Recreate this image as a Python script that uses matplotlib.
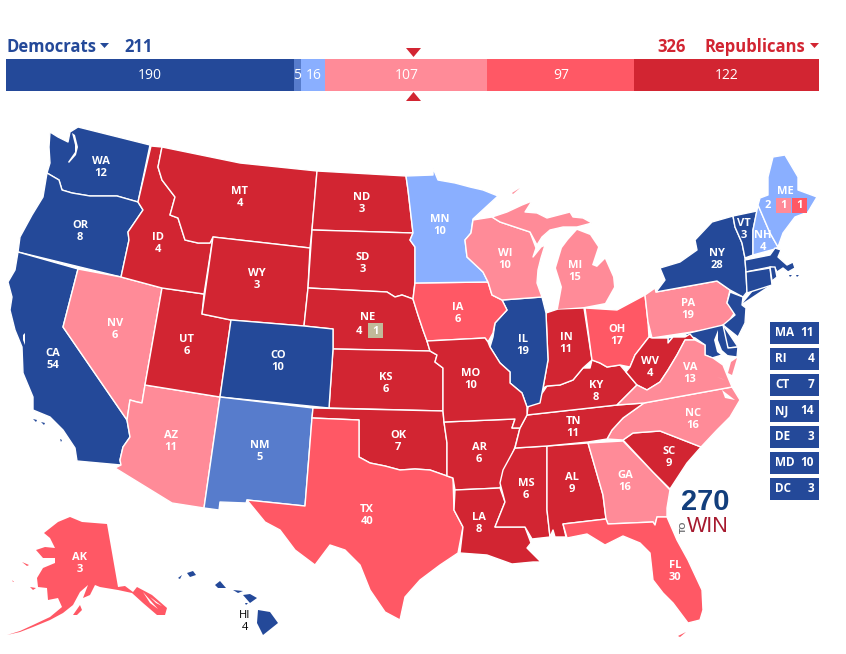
import matplotlib
matplotlib.use("Agg")
import matplotlib.pyplot as plt
from matplotlib.patches import Polygon, Rectangle

plt.rcParams["font.family"] = ["Open Sans", "DejaVu Sans"]

# electoral bar
bar_values = [190, 5, 16, 107, 97, 122]
bar_colors = ["#244999", "#577CCC", "#8AAFFF", "#FF8B98", "#FF5865", "#D22532"]
dem_total = 211
rep_total = 326

# small states box
box_states = ["MA", "RI", "CT", "NJ", "DE", "MD", "DC"]
box_votes = [11, 4, 7, 14, 3, 10, 3]

# ratings
strong_d = ["WA", "OR", "CA", "CO", "IL", "NY", "VT", "MA", "RI", "CT", "NJ", "DE", "MD", "HI"]
likely_d = ["NM"]
lean_d = ["MN", "ME", "NH"]
tilt_r = ["NV", "AZ", "WI", "MI", "PA", "VA", "NC", "GA"]
lean_r = ["TX", "IA", "OH", "FL", "AK"]
strong_r = ["ID", "MT", "WY", "UT", "ND", "SD", "NE", "KS", "OK", "MO", "AR", "LA", "MS", "AL",
            "TN", "KY", "IN", "WV", "SC"]

votes = {"WA": 12, "OR": 8, "CA": 54, "NV": 6, "ID": 4, "MT": 4, "WY": 3, "UT": 6, "AZ": 11, "CO": 10,
         "NM": 5, "ND": 3, "SD": 3, "KS": 6, "OK": 7, "TX": 40, "MN": 10, "IA": 6, "MO": 10, "AR": 6,
         "LA": 8, "IL": 19, "WI": 10, "MI": 15, "IN": 11, "OH": 17, "KY": 8, "TN": 11, "MS": 6, "AL": 9,
         "GA": 16, "FL": 30, "SC": 9, "NC": 16, "VA": 13, "WV": 4, "PA": 19, "NY": 28, "VT": 3, "NH": 4,
         "AK": 3}

# label centres in picture pixels
label_pos = {"WA": (101, 161), "OR": (80, 226), "CA": (53, 354), "NV": (115, 323), "ID": (158, 237),
             "MT": (240, 191), "WY": (257, 274), "UT": (187, 340), "AZ": (171, 436), "CO": (278, 356),
             "NM": (260, 445), "ND": (362, 198), "SD": (363, 257), "KS": (386, 377), "OK": (398, 435),
             "TX": (367, 510), "MN": (440, 219), "IA": (458, 307), "MO": (471, 374), "AR": (479, 448),
             "LA": (479, 518), "IL": (523, 339), "WI": (505, 254), "MI": (575, 265), "IN": (566, 338),
             "OH": (617, 329), "KY": (596, 386), "TN": (573, 422), "MS": (526, 483), "AL": (572, 478),
             "GA": (625, 475), "FL": (675, 566), "SC": (669, 451), "NC": (693, 413), "VA": (690, 368),
             "WV": (650, 361), "PA": (688, 303), "NY": (717, 254), "VT": (744, 223), "NH": (763, 235),
             "AK": (80, 557)}

# state outlines, in pixels
shapes = {
    "WA": [[(50, 132), (58, 137), (68, 142), (70, 132), (78, 127), (150, 145), (138, 202), (117, 196),
            (90, 196), (72, 193), (62, 190), (59, 180), (47, 173), (50, 163), (49, 147)]],
    "OR": [[(47, 173), (59, 180), (62, 190), (72, 193), (90, 196), (117, 196), (138, 202), (143, 210), (128, 232),
            (129, 240), (121, 277), (18, 252), (20, 237), (32, 215), (43, 197)]],
    "CA": [[(18, 252), (78, 269), (63, 327), (127, 420), (130, 437), (123, 447), (120, 460), (121, 465), (77, 461),
            (75, 448), (63, 430), (50, 417), (33, 410), (33, 397), (23, 373), (22, 347), (15, 330), (10, 310),
            (12, 297), (8, 282), (15, 270)],
           [(33, 419), (37, 420), (36, 422)], [(41, 422), (45, 423), (44, 425)], [(60, 439), (62, 440), (61, 442)]],
    "NV": [[(78, 269), (121, 277), (162, 288), (145, 385), (142, 403), (137, 402), (130, 400), (127, 420), (63, 327)]],
    "AZ": [[(145, 385), (220, 397), (204, 508), (172, 503), (115, 468), (121, 465), (120, 460), (123, 447), (130, 437),
            (127, 420), (130, 400), (137, 402), (142, 403)]],
    "UT": [[(162, 288), (204, 294), (202, 314), (231, 320), (220, 397), (145, 385)]],
    "ID": [[(151, 146), (162, 147), (158, 167), (162, 180), (175, 197), (170, 215), (178, 218), (185, 240), (198, 243),
            (210, 243), (213, 237), (204, 294), (162, 288), (121, 277), (129, 240), (128, 232), (143, 210), (138, 202)]],
    "MT": [[(162, 147), (240, 163), (317, 171), (312, 230), (310, 248), (213, 237), (210, 243), (198, 243), (185, 240),
            (178, 218), (170, 215), (175, 197), (162, 180), (158, 167)]],
    "WY": [[(213, 237), (310, 248), (308, 288), (304, 326), (231, 320), (202, 314)]],
    "ND": [[(317, 171), (406, 176), (408, 190), (413, 233), (312, 230)]],
    "SD": [[(312, 230), (413, 233), (410, 240), (415, 247), (415, 282), (413, 299), (402, 295), (395, 297), (387, 292),
            (308, 288)]],
    "NE": [[(308, 288), (387, 292), (395, 297), (402, 295), (413, 299), (418, 315), (423, 330), (427, 341), (430, 351),
            (333, 349), (333, 329), (304, 326)]],
    "KS": [[(333, 349), (430, 351), (437, 355), (435, 362), (443, 368), (443, 411), (329, 408)]],
    "CO": [[(231, 320), (304, 326), (333, 329), (333, 349), (329, 408), (220, 397)]],
    "NM": [[(220, 397), (313, 408), (312, 418), (305, 506), (247, 500), (246, 503), (220, 502), (219, 510), (204, 508)]],
    "OK": [[(313, 408), (443, 411), (444, 422), (447, 443), (447, 476), (430, 470), (415, 469), (400, 470), (385, 466),
            (370, 463), (359, 457), (359, 420), (312, 418)]],
    "TX": [[(312, 418), (359, 420), (359, 457), (370, 463), (385, 466), (400, 470), (415, 469), (430, 470), (447, 476),
            (453, 478), (454, 510), (463, 527), (458, 553), (440, 565), (420, 580), (405, 597), (400, 620), (385, 612),
            (370, 590), (360, 565), (345, 550), (330, 545), (315, 565), (295, 550), (280, 530), (265, 522), (247, 500),
            (305, 506)]],
    "AR": [[(444, 422), (515, 419), (512, 428), (520, 428), (515, 447), (512, 455), (505, 470), (500, 488), (455, 490),
            (453, 478), (447, 476), (447, 443)]],
    "LA": [[(455, 490), (500, 488), (505, 502), (495, 527), (525, 527), (531, 543), (527, 548), (541, 562), (533, 562),
            (512, 564), (487, 555), (460, 553), (463, 527), (454, 510)]],
    "MS": [[(515, 448), (547, 446), (547, 510), (550, 537), (532, 539), (525, 527), (495, 527), (505, 502), (500, 483),
            (503, 470)]],
    "AL": [[(547, 446), (588, 443), (603, 495), (606, 519), (563, 524), (566, 537), (555, 537), (553, 530), (550, 537),
            (547, 510)]],
    "GA": [[(588, 443), (623, 441), (653, 472), (670, 490), (667, 508), (667, 517), (657, 517), (655, 525), (653, 522),
            (608, 524), (606, 519), (603, 495)]],
    "FL": [[(563, 524), (606, 519), (608, 524), (653, 522), (655, 525), (657, 517), (667, 517), (677, 540), (688, 560),
            (702, 590), (703, 610), (700, 620), (688, 623), (673, 603), (663, 593), (653, 580), (650, 553), (640, 543),
            (623, 536), (605, 545), (587, 534), (567, 538)], [(678, 636), (686, 632), (680, 637)]],
    "SC": [[(623, 440), (633, 433), (660, 431), (701, 447), (687, 463), (670, 489), (653, 472)]],
    "NC": [[(644, 403), (732, 387), (740, 400), (730, 417), (717, 430), (701, 447), (660, 431), (633, 433), (623, 440),
            (607, 439), (612, 430), (623, 418)]],
    "TN": [[(527, 415), (545, 413), (617, 405), (644, 403), (623, 418), (612, 430), (607, 439), (588, 442), (547, 446),
            (515, 448), (520, 428)]],
    "KY": [[(527, 415), (528, 407), (543, 392), (547, 386), (560, 385), (573, 380), (583, 368), (590, 368), (592, 360),
            (600, 363), (607, 367), (620, 365), (626, 372), (637, 385), (617, 405), (545, 413)]],
    "IN": [[(546, 313), (558, 309), (584, 308), (592, 360), (583, 368), (573, 380), (560, 385), (547, 386), (543, 388),
            (548, 360)]],
    "IL": [[(502, 300), (542, 297), (546, 313), (548, 360), (543, 388), (540, 403), (527, 407), (522, 393), (510, 383),
            (510, 372), (500, 363), (490, 347), (493, 337), (495, 323), (507, 310)]],
    "IA": [[(415, 283), (488, 282), (492, 295), (502, 300), (507, 310), (495, 323), (493, 333), (488, 342), (485, 338),
            (427, 341), (423, 330), (418, 315), (413, 299)]],
    "MO": [[(427, 341), (485, 338), (488, 342), (490, 347), (500, 363), (510, 372), (510, 383), (522, 393), (527, 407),
            (527, 415), (520, 428), (512, 428), (515, 419), (444, 422), (443, 411), (443, 368), (435, 362), (437, 355),
            (430, 351)]],
    "MN": [[(406, 176), (433, 175), (433, 168), (438, 180), (455, 183), (470, 187), (483, 190), (498, 196), (486, 207),
            (473, 219), (471, 233), (465, 240), (467, 257), (483, 272), (488, 282), (415, 283), (415, 247), (410, 240),
            (413, 233), (408, 190)]],
    "WI": [[(473, 220), (492, 217), (500, 222), (530, 232), (536, 248), (533, 257), (541, 247), (545, 245), (541, 258),
            (538, 270), (537, 283), (542, 297), (502, 300), (492, 295), (488, 282), (483, 272), (467, 257), (465, 240),
            (471, 233)]],
    "MI": [[(492, 217), (507, 212), (522, 205), (532, 201), (525, 212), (537, 213), (547, 218), (570, 212), (573, 217),
            (583, 218), (592, 223), (577, 227), (563, 227), (550, 230), (542, 237), (537, 245), (530, 232), (500, 222)],
           [(577, 230), (590, 235), (598, 247), (592, 265), (597, 267), (605, 259), (613, 277), (614, 287), (605, 303),
            (584, 307), (558, 309), (562, 287), (556, 268), (562, 248), (568, 240)],
           [(512, 193), (520, 188), (513, 194)]],
    "OH": [[(585, 308), (617, 310), (645, 295), (648, 322), (649, 337), (635, 355), (630, 367), (620, 365), (607, 367),
            (600, 363), (592, 360)]],
    "PA": [[(645, 295), (655, 288), (656, 292), (717, 281), (730, 290), (727, 303), (735, 312), (725, 327), (652, 338),
            (648, 322)]],
    "NY": [[(656, 292), (665, 280), (660, 268), (680, 262), (697, 250), (695, 240), (712, 222), (733, 216), (735, 227),
            (742, 243), (745, 258), (746, 273), (747, 292), (743, 297), (730, 290), (717, 281)],
           [(743, 303), (753, 291), (770, 285), (755, 295)]],
    "VT": [[(733, 216), (757, 211), (753, 230), (753, 255), (745, 258), (742, 243), (735, 227)]],
    "NH": [[(758, 205), (770, 233), (778, 247), (775, 249), (753, 255), (753, 230)]],
    "ME": [[(758, 205), (760, 198), (768, 195), (768, 177), (773, 157), (785, 155), (798, 177), (798, 190), (817, 197),
            (808, 212), (795, 217), (783, 233), (778, 247), (770, 233)]],
    "MA": [[(745, 260), (770, 255), (775, 248), (781, 250), (778, 257), (787, 265), (793, 262), (795, 268), (788, 272),
            (783, 268), (777, 272), (775, 268), (770, 267), (746, 272)], [(796, 275), (799, 275), (797, 277)],
           [(789, 275), (792, 275), (790, 277)]],
    "CT": [[(746, 272), (770, 268), (772, 285), (747, 293)]],
    "RI": [[(770, 267), (775, 267), (777, 277), (772, 281)]],
    "NJ": [[(730, 292), (743, 297), (742, 305), (746, 308), (745, 323), (738, 337), (723, 325), (735, 315), (727, 303)]],
    "DE": [[(721, 327), (723, 325), (730, 335), (738, 347), (728, 348)]],
    "MD": [[(668, 338), (723, 325), (728, 348), (738, 347), (737, 357), (722, 355), (712, 358), (705, 355), (705, 345),
            (695, 338), (685, 335), (673, 337), (668, 343)]],
    "WV": [[(649, 337), (652, 338), (668, 338), (668, 343), (673, 337), (685, 337), (690, 334), (695, 340), (685, 340),
            (677, 355), (668, 370), (660, 382), (647, 390), (637, 385), (626, 372), (630, 367), (635, 355)]],
    "VA": [[(617, 405), (637, 385), (647, 390), (660, 382), (668, 370), (677, 355), (685, 340), (695, 340), (705, 345),
            (705, 355), (713, 358), (723, 365), (727, 375), (732, 387), (644, 403)],
           [(731, 362), (737, 358), (732, 375), (728, 373)]],
    "HI": [[(258, 610), (270, 612), (278, 623), (263, 635), (257, 623)], [(243, 595), (250, 594), (257, 598), (250, 603)],
           [(233, 590), (243, 591), (238, 593)], [(215, 585), (220, 581), (226, 588), (218, 588)],
           [(187, 573), (193, 571), (196, 575), (190, 577)], [(178, 578), (182, 575), (180, 579)],
           [(245, 603), (248, 603), (246, 605)]],
    "AK": [[(44, 533), (58, 522), (70, 517), (82, 522), (107, 524), (118, 587), (125, 586), (133, 592), (137, 587),
            (152, 595), (167, 608), (165, 615), (157, 615), (143, 603), (132, 593), (118, 590), (100, 587), (95, 585),
            (90, 595), (83, 598), (88, 585), (80, 592), (73, 605), (63, 613), (50, 620), (33, 627), (20, 632), (7, 635),
            (20, 631), (33, 625), (50, 617), (62, 607), (58, 598), (48, 600), (47, 588), (38, 587), (37, 578), (43, 568),
            (55, 563), (55, 558), (43, 558), (36, 550), (45, 547), (55, 548), (50, 538)],
           [(73, 615), (80, 605), (82, 610), (77, 615)], [(22, 562), (29, 565), (27, 566)],
           [(30, 587), (36, 588), (33, 590)], [(12, 580), (14, 582), (13, 582)]],
}

# inland water, white over the states
water = [[(72, 133), (75, 135), (78, 147), (76, 155), (69, 163), (68, 162), (75, 152), (75, 145)],
         [(23, 335), (25, 333), (25, 345), (23, 340)],
         [(718, 330), (714, 340), (717, 352), (725, 358), (730, 357), (722, 350), (718, 340)],
         [(717, 377), (725, 380), (722, 379)], [(722, 390), (735, 400), (725, 398)],
         [(143, 592), (158, 609), (150, 603)], [(150, 597), (162, 606), (156, 603)]]

rating_colors = {}
for names, col in [(strong_d, bar_colors[0]), (likely_d, bar_colors[1]), (lean_d, bar_colors[2]),
                   (tilt_r, bar_colors[3]), (lean_r, bar_colors[4]), (strong_r, bar_colors[5])]:
    for n in names:
        rating_colors[n] = col

fig = plt.figure(figsize=(8.46, 6.54), dpi=100)

# map layer works in picture pixels
ax = fig.add_axes([0, 0, 1, 1])
ax.set_xlim(0, 846)
ax.set_ylim(654, 0)
ax.axis("off")

for code, parts in shapes.items():
    for i, part in enumerate(parts):
        # islands and the two outlying states get no border, it would eat them
        lw = 1.0 if i == 0 and code not in ("AK", "HI") else 0
        ax.add_patch(Polygon(part, closed=True, facecolor=rating_colors[code], edgecolor="white", linewidth=lw,
                             joinstyle="round"))
for part in water:
    ax.add_patch(Polygon(part, closed=True, facecolor="white", edgecolor="none"))

for code, n in votes.items():
    x, y = label_pos[code]
    ax.text(x, y, code, color="white", fontsize=8, fontweight="bold", ha="center", va="center")
    ax.text(x, y + 12, str(n), color="white", fontsize=8, fontweight="bold", ha="center", va="center")

# split votes
ax.text(368, 317, "NE", color="white", fontsize=8, fontweight="bold", ha="center", va="center")
ax.text(359, 331, "4", color="white", fontsize=8, fontweight="bold", ha="center", va="center")
ax.add_patch(Rectangle((368, 323), 15, 15, facecolor="#C1BA9A", edgecolor="none"))
ax.text(375.5, 331, "1", color="white", fontsize=8, fontweight="bold", ha="center", va="center")

ax.text(785, 191, "ME", color="white", fontsize=8, fontweight="bold", ha="center", va="center")
ax.text(768, 206, "2", color="white", fontsize=8, fontweight="bold", ha="center", va="center")
ax.add_patch(Rectangle((776, 198), 15, 15, facecolor=bar_colors[3], edgecolor="none"))
ax.add_patch(Rectangle((792, 198), 15, 15, facecolor=bar_colors[4], edgecolor="none"))
ax.text(783.5, 206, "1", color="white", fontsize=8, fontweight="bold", ha="center", va="center")
ax.text(799.5, 206, "1", color="white", fontsize=8, fontweight="bold", ha="center", va="center")

ax.text(245, 615, "HI", color="black", fontsize=8, ha="center", va="center")
ax.text(245, 627, "4", color="black", fontsize=8, ha="center", va="center")

# small states column
for i, (st, n) in enumerate(zip(box_states, box_votes)):
    top = 322 + i * 26
    ax.add_patch(Rectangle((770, top), 49, 22, facecolor=bar_colors[0], edgecolor="none"))
    ax.text(775, top + 11, st, color="white", fontsize=8.5, fontweight="bold", ha="left", va="center")
    ax.text(814, top + 11, str(n), color="white", fontsize=8.5, fontweight="bold", ha="right", va="center")

# logo
ax.text(705.5, 502, "270", color="#123E7C", fontsize=21, fontweight="bold", ha="center", va="center",
        family="Liberation Sans")
ax.text(708, 526, "WIN", color="#A6192E", fontsize=15.5, ha="center", va="center", family="Liberation Sans")
ax.text(683, 526.5, "TO", color="#6D6E71", fontsize=6.5, fontweight="bold", rotation=90, ha="center", va="center",
        family="Liberation Sans")

# header text
ax.text(6, 47, "Democrats", color=bar_colors[0], fontsize=12, fontweight="bold", ha="left", va="center")
ax.text(124, 47, str(dem_total), color=bar_colors[0], fontsize=12, fontweight="bold", ha="left", va="center")
ax.text(686, 47, str(rep_total), color=bar_colors[5], fontsize=12, fontweight="bold", ha="right", va="center")
ax.text(805, 47, "Republicans", color=bar_colors[5], fontsize=12, fontweight="bold", ha="right", va="center")
ax.add_patch(Polygon([(100, 43), (109, 43), (104.5, 48)], closed=True, facecolor=bar_colors[0], edgecolor="none"))
ax.add_patch(Polygon([(810, 43), (819, 43), (814.5, 48)], closed=True, facecolor=bar_colors[5], edgecolor="none"))

# stacked bar on its own axes
bax = fig.add_axes([6 / 846, 1 - 91 / 654, 813 / 846, 32 / 654])
bar_total = sum(bar_values)
bax.set_xlim(0, bar_total)
bax.set_ylim(0, 1)
bax.axis("off")
left = 0
for val, col in zip(bar_values, bar_colors):
    bax.barh(0.5, val, left=left, height=1, color=col, linewidth=0)
    bax.text(left + val / 2, 0.47, str(val), color="white", fontsize=10, ha="center", va="center")
    left += val

# 270 markers at the middle of the bar
down = [(-1, 0.6), (1, 0.6), (0, -0.6)]
up = [(-1, -0.6), (1, -0.6), (0, 0.6)]
bax.plot([bar_total / 2], [1.22], marker=down, ms=10.8, color=bar_colors[5], mew=0, clip_on=False)
bax.plot([bar_total / 2], [-0.16], marker=up, ms=10.8, color=bar_colors[5], mew=0, clip_on=False)

fig.savefig("out.png", dpi=100)
